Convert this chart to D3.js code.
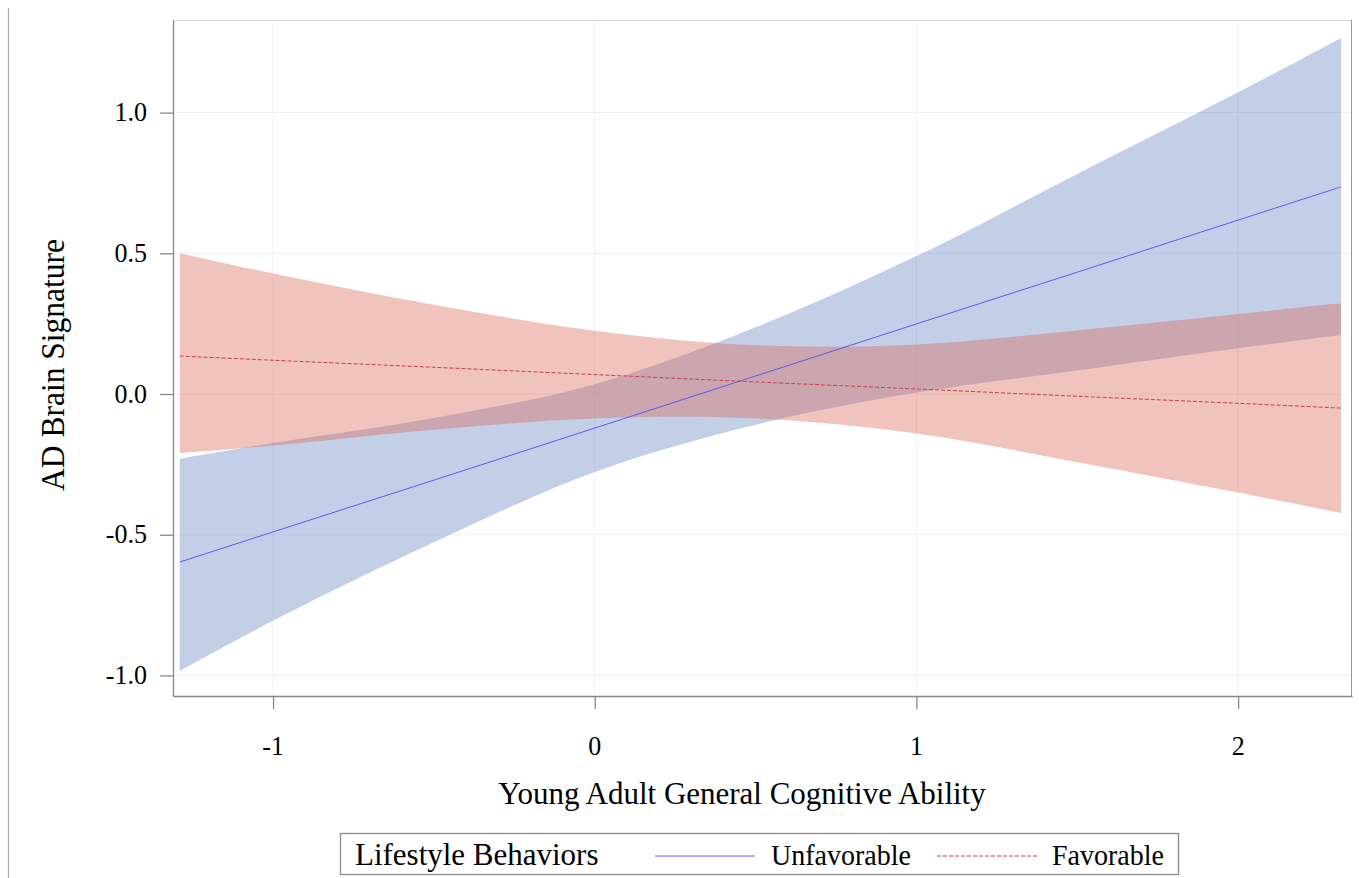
<!DOCTYPE html>
<html>
<head>
<meta charset="utf-8">
<script src="https://cdn.jsdelivr.net/npm/d3@7/dist/d3.min.js"></script>
<style>
  body { margin: 0; background: #fff; }
  svg { display: block; }
  text { font-family: "Liberation Serif", "Times New Roman", serif; fill: #000; }
</style>
</head>
<body>
<div id="chart"></div>
<script>
// data
var xs = [-1.29, -1, -0.5, 0, 0.5, 1, 1.5, 2, 2.32];

// Unfavorable (blue, solid)
var unfavFit   = [-0.597, -0.49, -0.306, -0.121, 0.064, 0.249, 0.433, 0.618, 0.736];
var unfavUpper = [-0.23, -0.174, -0.085, 0.035, 0.237, 0.49, 0.782, 1.072, 1.265];
var unfavLower = [-0.984, -0.806, -0.527, -0.277, -0.109, 0.005, 0.084, 0.163, 0.21];

// Favorable (red, dashed)
var favFit   = [0.135, 0.12, 0.095, 0.069, 0.043, 0.018, -0.008, -0.033, -0.05];
var favUpper = [0.50, 0.428, 0.317, 0.225, 0.173, 0.176, 0.226, 0.284, 0.323];
var favLower = [-0.21, -0.183, -0.127, -0.087, -0.087, -0.14, -0.242, -0.35, -0.423];

var xTicks = [-1, 0, 1, 2];
var yTicks = [-1.0, -0.5, 0.0, 0.5, 1.0];

var W = 1359, H = 878;
var plot = {left: 173, right: 1352, top: 20, bottom: 696};
var stretch = 1.05;   // the source text is drawn a touch taller than wide

var svg = d3.select("#chart").append("svg")
    .attr("width", W)
    .attr("height", H);

var x = d3.scaleLinear().domain([-1.311, 2.354]).range([plot.left, plot.right]);
var y = d3.scaleLinear().domain([-1.073, 1.329]).range([plot.bottom, plot.top]);

function label(g, tx, ty, str, size, anchor, rot) {
    return g.append("text")
        .attr("transform", "translate(" + tx + "," + ty + ")" + (rot ? " rotate(" + rot + ")" : "") + " scale(1," + stretch + ")")
        .attr("text-anchor", anchor)
        .style("font-size", size + "px")
        .text(str);
}

// figure border on the left
svg.append("line")
    .attr("x1", 8.5).attr("x2", 8.5)
    .attr("y1", 8).attr("y2", H)
    .attr("stroke", "#a8a8a8").attr("stroke-width", 1.2);

// gridlines
svg.append("g").selectAll("line")
    .data(xTicks).enter().append("line")
    .attr("x1", function(d){ return x(d); }).attr("x2", function(d){ return x(d); })
    .attr("y1", plot.top).attr("y2", plot.bottom)
    .attr("stroke", "#f0f0f0");
svg.append("g").selectAll("line")
    .data(yTicks).enter().append("line")
    .attr("y1", function(d){ return y(d); }).attr("y2", function(d){ return y(d); })
    .attr("x1", plot.left).attr("x2", plot.right)
    .attr("stroke", "#f0f0f0");

// bands
function band(up, lo) {
    var rows = xs.map(function(v, i){ return {x: v, hi: up[i], lo: lo[i]}; });
    return d3.area()
        .x(function(d){ return x(d.x); })
        .y0(function(d){ return y(d.lo); })
        .y1(function(d){ return y(d.hi); })
        .curve(d3.curveCatmullRom)(rows);
}
function fit(vals) {
    var rows = xs.map(function(v, i){ return {x: v, y: vals[i]}; });
    return d3.line()
        .x(function(d){ return x(d.x); })
        .y(function(d){ return y(d.y); })
        .curve(d3.curveCatmullRom)(rows);
}

svg.append("path")
    .attr("d", band(unfavUpper, unfavLower))
    .attr("fill", "rgb(105,135,195)").attr("fill-opacity", 0.4);
svg.append("path")
    .attr("d", band(favUpper, favLower))
    .attr("fill", "rgb(218,105,90)").attr("fill-opacity", 0.4);

svg.append("path")
    .attr("d", fit(unfavFit))
    .attr("fill", "none").attr("stroke", "#5a5af0").attr("stroke-width", 1);
svg.append("path")
    .attr("d", fit(favFit))
    .attr("fill", "none").attr("stroke", "#c8404f").attr("stroke-width", 1)
    .attr("stroke-dasharray", "4,2");

// frame
svg.append("line").attr("x1", plot.left).attr("x2", plot.right).attr("y1", plot.top + 0.5).attr("y2", plot.top + 0.5)
    .attr("stroke", "#d8d8d8");
svg.append("line").attr("x1", plot.right - 0.5).attr("x2", plot.right - 0.5).attr("y1", plot.top).attr("y2", plot.bottom)
    .attr("stroke", "#999");

// axes
var xAxis = d3.axisBottom(x).tickValues(xTicks).tickSize(13).tickSizeOuter(0).tickFormat(function(){ return ""; });
var yAxis = d3.axisLeft(y).tickValues(yTicks).tickSize(13).tickSizeOuter(0).tickFormat(function(){ return ""; });

var gx = svg.append("g").attr("transform", "translate(0," + plot.bottom + ")").call(xAxis);
var gy = svg.append("g").attr("transform", "translate(" + plot.left + ",0)").call(yAxis);
[gx, gy].forEach(function(g){
    g.select(".domain").attr("stroke", "#888").attr("stroke-width", 1.3);
    g.selectAll(".tick line").attr("stroke", "#888").attr("stroke-width", 1.3);
});

// tick labels
var tl = svg.append("g");
xTicks.forEach(function(d){
    label(tl, x(d), 755, String(d), 26, "middle");
});
yTicks.forEach(function(d){
    label(tl, 147, y(d) + 8.5, d.toFixed(1), 26, "end");
});

// axis titles
label(svg, 742, 804, "Young Adult General Cognitive Ability", 31, "middle");
label(svg, 64, 365, "AD Brain Signature", 31.5, "middle", -90);

// legend
var lg = svg.append("g");
lg.append("rect")
    .attr("x", 340.5).attr("y", 833.5)
    .attr("width", 838).attr("height", 41)
    .attr("fill", "none").attr("stroke", "#8a8a8a").attr("stroke-width", 1.3);
label(lg, 355, 865, "Lifestyle Behaviors", 31, "start");
lg.append("line").attr("x1", 655).attr("x2", 755).attr("y1", 856).attr("y2", 856)
    .attr("stroke", "#5a5af0").attr("stroke-width", 1);
label(lg, 771, 865, "Unfavorable", 28, "start");
lg.append("line").attr("x1", 937).attr("x2", 1037).attr("y1", 856).attr("y2", 856)
    .attr("stroke", "#c8404f").attr("stroke-width", 1).attr("stroke-dasharray", "4,2");
label(lg, 1052, 865, "Favorable", 28, "start");
</script>
</body>
</html>
